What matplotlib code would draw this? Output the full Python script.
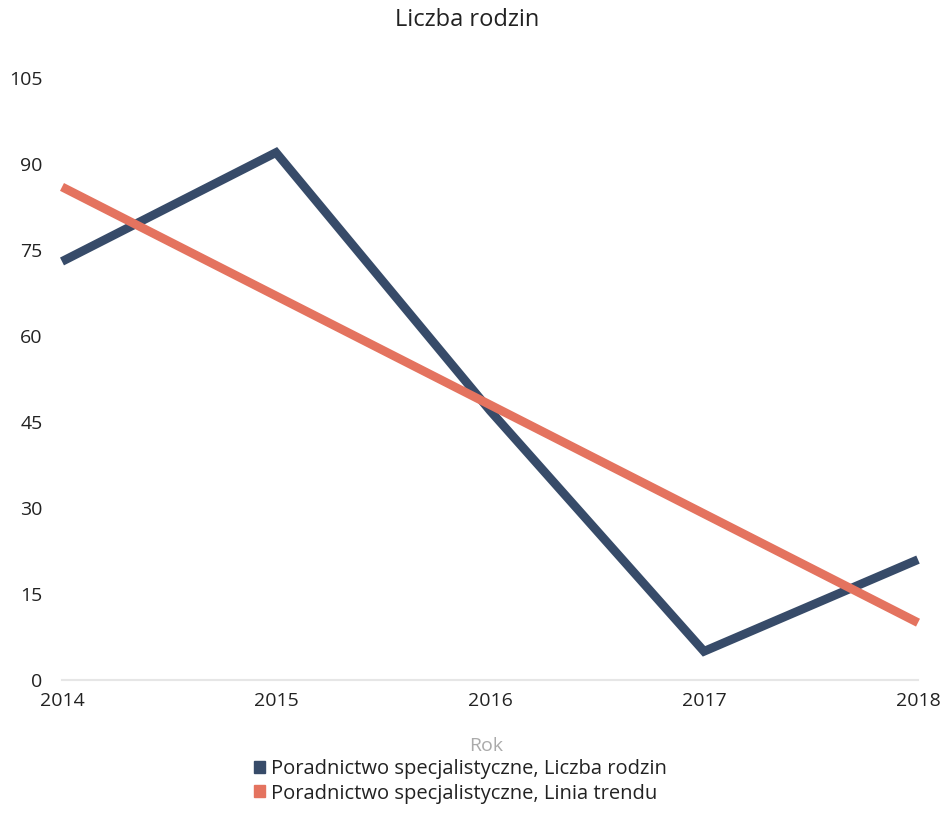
import matplotlib
matplotlib.use("Agg")
import matplotlib.pyplot as plt
from matplotlib.patches import Patch

years = [2014, 2015, 2016, 2017, 2018]
liczba_rodzin = [73, 92, 47, 5, 21]
linia_trendu = [86, 67, 48, 29, 10]
y_ticks = [0, 15, 30, 45, 60, 75, 90, 105]

title = "Liczba rodzin"
x_label = "Rok"
series_names = ["Poradnictwo specjalistyczne, Liczba rodzin",
                "Poradnictwo specjalistyczne, Linia trendu"]
blue = "#374B69"
red = "#E4735F"

plt.rcParams['font.family'] = ['Open Sans', 'DejaVu Sans']

fig = plt.figure(figsize=(9.45, 8.34), dpi=100)
ax = fig.add_axes([62/945, 1-680/834, (918-62)/945, (680-78)/834])

ax.plot(years, liczba_rodzin, color=blue, lw=6.3, solid_capstyle='butt',
        solid_joinstyle='miter', clip_on=False, zorder=3)
ax.plot(years, linia_trendu, color=red, lw=6.3, solid_capstyle='butt',
        clip_on=False, zorder=4)

ax.set_xlim(2014, 2018)
ax.set_ylim(0, 105)
ax.set_xticks(years)
ax.set_xticklabels([str(y) for y in years])
ax.set_yticks(y_ticks)
ax.tick_params(axis='both', length=0, labelsize=14, colors='#222222')
ax.tick_params(axis='x', pad=9)
ax.tick_params(axis='y', pad=14)
for s in ['top', 'right', 'left']:
    ax.spines[s].set_visible(False)
ax.spines['bottom'].set_color('#E6E6E6')
ax.spines['bottom'].set_linewidth(1.5)

fig.text(467/945, 1-20/834, title, ha='center', va='center', fontsize=17, color='#222222')
fig.text(486/945, 1-746/834, x_label, ha='center', va='center', fontsize=14, color='#AAAAAA')

handles = [Patch(color=blue), Patch(color=red)]
leg = fig.legend(handles, series_names, loc='upper left',
                 bbox_to_anchor=(244/945, 1-749/834), frameon=False,
                 fontsize=14.5, handlelength=0.55, handleheight=0.55,
                 handletextpad=0.3, labelspacing=0.22, borderpad=0)
for t in leg.get_texts():
    t.set_color('#222222')

fig.savefig("out.png", dpi=100, facecolor='white')
